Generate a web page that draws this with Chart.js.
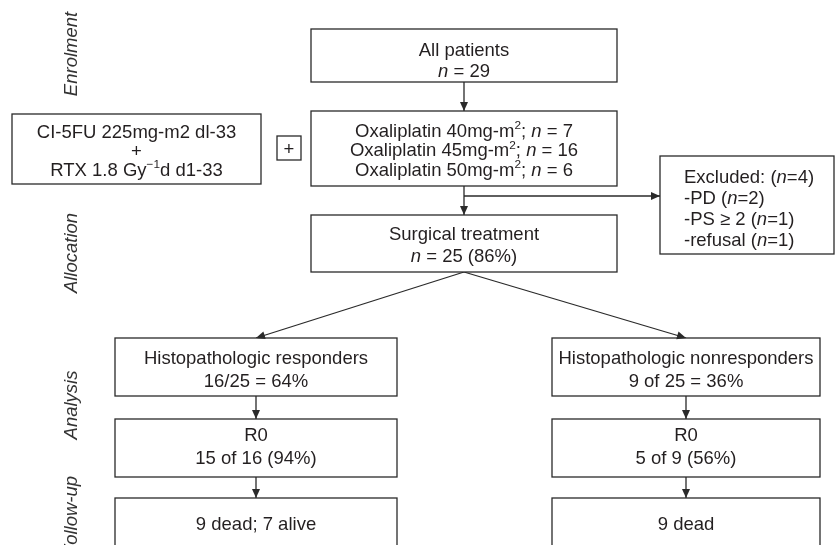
<!DOCTYPE html>
<html>
<head>
<meta charset="utf-8">
<script src="https://cdn.jsdelivr.net/npm/chart.js@4.4.1/dist/chart.umd.min.js"></script>
<style>
  html, body { margin: 0; padding: 0; background: #ffffff; }
  #wrap { width: 835px; height: 545px; }
</style>
</head>
<body>
<div id="wrap"><canvas id="c" width="835" height="545"></canvas></div>
<script>
// ---------------- data ----------------
const stages = ['Enrolment', 'Allocation', 'Analysis', 'Follow-up'];
const totalPatients = 29;
const oxaliplatinDoses = [40, 45, 50];          // mg-m2
const oxaliplatinN = [7, 16, 6];
const excludedTotal = 4;
const excludedReasons = ['PD', 'PS \u2265 2', 'refusal'];
const excludedN = [2, 1, 1];
const surgicalN = 25;
const surgicalPct = 86;
const respondersN = [16, 9];                    // responders, nonresponders
const respondersPct = [64, 36];
const r0N = [15, 5];
const r0Pct = [94, 56];
const deadN = [9, 9];
const aliveN = [7, 0];

// ---------------- layout (positions in diagram units) ----------------
const layout = {
  all:   { x0: 311, x1: 617, y0: 29,  y1: 82,  lines: [49, 70] },
  oxa:   { x0: 311, x1: 617, y0: 111, y1: 186, lines: [130, 149.5, 169] },
  ci:    { x0: 12,  x1: 261, y0: 114, y1: 184, lines: [131, 150, 169] },
  plus:  { x0: 277, x1: 301, y0: 136, y1: 160, lines: [148] },
  excl:  { x0: 660, x1: 834, y0: 156, y1: 254, lines: [176, 197, 218, 239], left: 684 },
  surg:  { x0: 311, x1: 617, y0: 215, y1: 272, lines: [233, 255] },
  resp:  { x0: 115, x1: 397, y0: 338, y1: 396, lines: [357, 380] },
  non:   { x0: 552, x1: 820, y0: 338, y1: 396, lines: [357, 380] },
  r0L:   { x0: 115, x1: 397, y0: 419, y1: 477, lines: [434, 457] },
  r0R:   { x0: 552, x1: 820, y0: 419, y1: 477, lines: [434, 457] },
  fuL:   { x0: 115, x1: 397, y0: 498, y1: 570, lines: [523] },
  fuR:   { x0: 552, x1: 820, y0: 498, y1: 570, lines: [523] }
};
const stageLabelX = 72;
const stageLabelY = [54, 253, 405, 516];

const connectors = [
  [[464, 82], [464, 111]],
  [[464, 186], [464, 215]],
  [[464, 196], [660, 196]],
  [[464, 272], [256, 338]],
  [[464, 272], [686, 338]],
  [[256, 396], [256, 419]],
  [[256, 477], [256, 498]],
  [[686, 396], [686, 419]],
  [[686, 477], [686, 498]]
];

// ---------------- texts built from data ----------------
const texts = {
  all:  ['All patients', '*n* = ' + totalPatients],
  oxa:  oxaliplatinDoses.map((d, i) => 'Oxaliplatin ' + d + 'mg-m^2^; *n* = ' + oxaliplatinN[i]),
  ci:   ['CI-5FU 225mg-m2 dl-33', '+', 'RTX 1.8 Gy^\u22121^d d1-33'],
  plus: ['+'],
  excl: ['Excluded: (*n*=' + excludedTotal + ')'].concat(
          excludedReasons.map((r, i) => '-' + r + ' (*n*=' + excludedN[i] + ')')),
  surg: ['Surgical treatment', '*n* = ' + surgicalN + ' (' + surgicalPct + '%)'],
  resp: ['Histopathologic responders', respondersN[0] + '/' + surgicalN + ' = ' + respondersPct[0] + '%'],
  non:  ['Histopathologic nonresponders', respondersN[1] + ' of ' + surgicalN + ' = ' + respondersPct[1] + '%'],
  r0L:  ['R0', r0N[0] + ' of ' + respondersN[0] + ' (' + r0Pct[0] + '%)'],
  r0R:  ['R0', r0N[1] + ' of ' + respondersN[1] + ' (' + r0Pct[1] + '%)'],
  fuL:  [deadN[0] + ' dead; ' + aliveN[0] + ' alive'],
  fuR:  [deadN[1] + ' dead']
};

// ---------------- styles ----------------
const FONT_FAMILY = '"Liberation Sans", Arial, Helvetica, sans-serif';
const FS = 18.5;
const INK = '#231f20';
const LINE = '#2a2a2a';
const LW = 1.3;

function parseRich(str) {
  const segs = [];
  let mode = 'n', buf = '';
  for (const ch of str) {
    if (ch === '*' || ch === '^') {
      if (buf) segs.push({ t: buf, m: mode });
      buf = '';
      const target = ch === '*' ? 'i' : 's';
      mode = (mode === target) ? 'n' : target;
    } else buf += ch;
  }
  if (buf) segs.push({ t: buf, m: mode });
  return segs;
}
function segFont(m) {
  if (m === 'i') return 'italic ' + FS + 'px ' + FONT_FAMILY;
  if (m === 's') return (FS * 0.64).toFixed(2) + 'px ' + FONT_FAMILY;
  return FS + 'px ' + FONT_FAMILY;
}
function drawRich(ctx, str, x, cy, align) {
  const segs = parseRich(str);
  let w = 0;
  segs.forEach(s => { ctx.font = segFont(s.m); s.w = ctx.measureText(s.t).width; w += s.w; });
  let cx = align === 'left' ? x : x - w / 2;
  const base = cy + FS * 0.37;
  ctx.textAlign = 'left';
  ctx.textBaseline = 'alphabetic';
  segs.forEach(s => {
    ctx.font = segFont(s.m);
    ctx.fillText(s.t, cx, s.m === 's' ? base - FS * 0.40 : base);
    cx += s.w;
  });
}

const flowPlugin = {
  id: 'flow',
  afterDatasetsDraw(chart) {
    const ctx = chart.ctx;
    const xs = chart.scales.x, ys = chart.scales.y;
    const px = v => xs.getPixelForValue(v);
    const py = v => ys.getPixelForValue(v);
    ctx.save();
    // boxes
    Object.keys(layout).forEach(k => {
      const b = layout[k];
      const x0 = px(b.x0), x1 = px(b.x1), y0 = py(b.y0), y1 = py(b.y1);
      ctx.fillStyle = '#ffffff';
      ctx.fillRect(x0, y0, x1 - x0, y1 - y0);
      ctx.strokeStyle = LINE;
      ctx.lineWidth = LW;
      ctx.strokeRect(x0, y0, x1 - x0, y1 - y0);
      ctx.fillStyle = INK;
      const lines = texts[k];
      lines.forEach((t, i) => {
        if (b.left !== undefined) drawRich(ctx, t, px(b.left), py(b.lines[i]), 'left');
        else drawRich(ctx, t, (x0 + x1) / 2, py(b.lines[i]), 'center');
      });
    });
    // arrowheads at the end of each connector
    chart.data.datasets.forEach(ds => {
      const n = ds.data.length;
      const a = ds.data[n - 2], b = ds.data[n - 1];
      const ax = px(a.x), ay = py(a.y), bx = px(b.x), by = py(b.y);
      const ang = Math.atan2(by - ay, bx - ax);
      const L = 9, W = 4;
      ctx.beginPath();
      ctx.moveTo(bx, by);
      ctx.lineTo(bx - L * Math.cos(ang) + W * Math.sin(ang), by - L * Math.sin(ang) - W * Math.cos(ang));
      ctx.lineTo(bx - L * Math.cos(ang) - W * Math.sin(ang), by - L * Math.sin(ang) + W * Math.cos(ang));
      ctx.closePath();
      ctx.fillStyle = LINE;
      ctx.fill();
    });
    // stage labels (rotated, italic)
    ctx.fillStyle = '#333333';
    ctx.font = 'italic ' + FS + 'px ' + FONT_FAMILY;
    ctx.textAlign = 'center';
    ctx.textBaseline = 'middle';
    stages.forEach((s, i) => {
      ctx.save();
      ctx.translate(px(stageLabelX), py(stageLabelY[i]));
      ctx.rotate(-Math.PI / 2);
      ctx.fillText(s, 0, 0);
      ctx.restore();
    });
    ctx.restore();
  }
};

new Chart(document.getElementById('c'), {
  type: 'scatter',
  data: {
    datasets: connectors.map(seg => ({
      data: seg.map(p => ({ x: p[0], y: p[1] })),
      showLine: true,
      borderColor: LINE,
      borderWidth: LW,
      pointRadius: 0,
      pointHoverRadius: 0,
      fill: false,
      tension: 0
    }))
  },
  options: {
    responsive: false,
    devicePixelRatio: 1,
    animation: false,
    layout: { padding: 0 },
    events: [],
    scales: {
      x: { type: 'linear', min: 0, max: 835, display: false },
      y: { type: 'linear', min: 0, max: 545, reverse: true, display: false }
    },
    plugins: { legend: { display: false }, tooltip: { enabled: false } }
  },
  plugins: [flowPlugin]
});
</script>
</body>
</html>
